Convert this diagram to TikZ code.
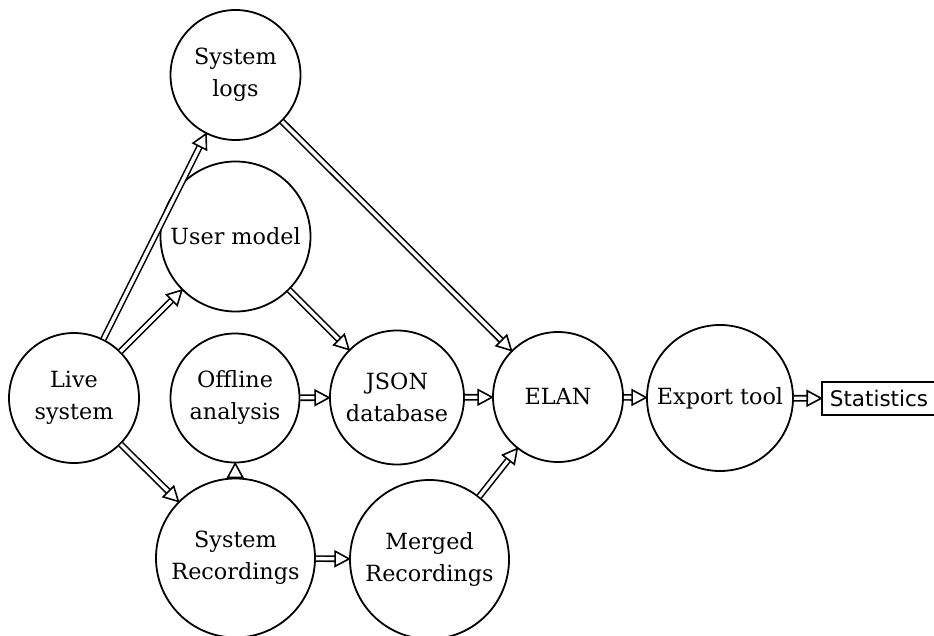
\documentclass[tikz,border=0pt]{standalone}
\usepackage{fontspec}
\setmainfont{DejaVu Serif}
\newfontfamily\sansf{DejaVu Sans}
\usetikzlibrary{calc}
\newcommand\darr[2]{%
  \path (#1) -- (#2) coordinate[pos=0] (ds) coordinate[pos=1] (de);
  \coordinate (db) at ($(de)!14pt!(ds)$);
  \draw[dblline] (ds) -- (db);
  \draw[headst] (de) -- ($(db)!7.5pt!90:(de)$) -- ($(db)!7.5pt!-90:(de)$) -- cycle;
}
\begin{document}
\begin{tikzpicture}[x=1pt,y=-1pt,
  st/.style={circle,draw,line width=1.8pt,inner sep=0pt,align=center,
    font=\fontsize{22.3}{32}\selectfont},
  dblline/.style={draw,line width=1.6pt,double=white,double distance=3.4pt},
  headst/.style={draw,line width=1.6pt,fill=white,line join=miter}]
\useasboundingbox (0,0) rectangle (934,636);
\node[st,minimum size=130pt] (live) at (74,398) {Live\\system};
\node[st,minimum size=130pt] (logs) at (235.5,75) {System\\logs};
\node[st,minimum size=150pt] (user) at (235.5,236.5) {User model};
\node[st,minimum size=129pt] (off) at (235,398) {Offline\\analysis};
\node[st,minimum size=159pt] (rec) at (235.5,558) {System\\Recordings};
\node[st,minimum size=134pt] (json) at (397,397.5) {JSON\\database};
\node[st,minimum size=159pt] (merged) at (429.5,559.5) {Merged\\Recordings};
\node[st,minimum size=130pt] (elan) at (558,397) {ELAN};
\node[st,minimum size=146pt] (export) at (720,398) {Export tool};
\node[draw,line width=1.6pt,minimum width=114pt,minimum height=33pt,inner sep=0pt,
  font=\sansf\fontsize{21.5}{26}\selectfont] (stats) at (879,398.5) {Statistics};
\darr{live}{logs}
\darr{live}{user}
\darr{live}{rec}
\darr{rec}{off}
\darr{rec}{merged}
\darr{off}{json}
\darr{user}{json}
\darr{json}{elan}
\darr{logs}{elan}
\darr{merged}{elan}
\darr{elan}{export}
\darr{export}{stats}
\end{tikzpicture}
\end{document}
